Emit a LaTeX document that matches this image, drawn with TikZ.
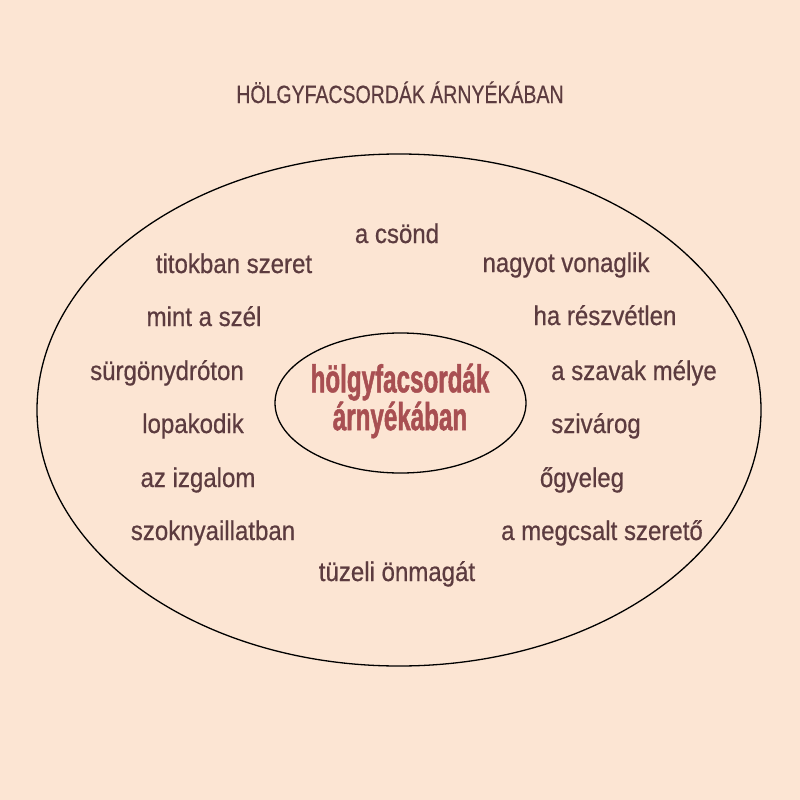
\documentclass[tikz,border=0pt]{standalone}
\usepackage{fontspec}
\usetikzlibrary{shapes.geometric}
\setmainfont{Liberation Sans}
\newfontfamily\titlefont[FakeStretch=0.78,FakeBold=0.4]{Liberation Sans}
\newfontfamily\wordfont[FakeStretch=0.89,FakeBold=0.6]{Liberation Sans}
\newfontfamily\centerfont[FakeStretch=0.62,FakeBold=1.2]{Liberation Sans Bold}
\definecolor{bgpeach}{HTML}{FCE5D3}
\definecolor{txtbrown}{HTML}{5C3B3F}
\definecolor{ctrred}{HTML}{A84F52}
\begin{document}
\begin{tikzpicture}[x=1pt,y=-1pt,
  wordnode/.style={anchor=base,inner sep=0pt,text=txtbrown,font=\wordfont\fontsize{27}{30}\selectfont},
  titlenode/.style={anchor=base,inner sep=0pt,text=txtbrown,font=\titlefont\fontsize{25}{28}\selectfont},
  centernode/.style={anchor=center,inner sep=0pt,align=center,text=ctrred,font=\centerfont\fontsize{39}{30}\selectfont},
  ring/.style={draw=black,line width=1.3pt,ellipse,inner sep=0pt}]
\fill[bgpeach] (0,0) rectangle (800,800);
\useasboundingbox (0,0) rectangle (800,800);
\node[titlenode] (title) at (400,103) {HÖLGYFACSORDÁK ÁRNYÉKÁBAN};
\node[ring,minimum width=724pt,minimum height=512pt] (outer) at (399,410) {};
\node[ring,minimum width=251pt,minimum height=140pt] (inner) at (400.5,403) {};
\node[centernode] (ctr) at (400,401) {hölgyfacsordák\\árnyékában};
\node[wordnode] (w1) at (397,243) {a csönd};
\node[wordnode] (w2) at (234,273) {titokban szeret};
\node[wordnode] (w3) at (566,272) {nagyot vonaglik};
\node[wordnode] (w4) at (204,326) {mint a szél};
\node[wordnode] (w5) at (605,325) {ha részvétlen};
\node[wordnode] (w6) at (167,380) {sürgönydróton};
\node[wordnode] (w7) at (634,380) {a szavak mélye};
\node[wordnode] (w8) at (193,433) {lopakodik};
\node[wordnode] (w9) at (596,433) {szivárog};
\node[wordnode] (w10) at (198,487) {az izgalom};
\node[wordnode] (w11) at (582,487) {őgyeleg};
\node[wordnode] (w12) at (213,540) {szoknyaillatban};
\node[wordnode] (w13) at (602,540) {a megcsalt szerető};
\node[wordnode] (w14) at (397,581) {tüzeli önmagát};
\end{tikzpicture}
\end{document}
